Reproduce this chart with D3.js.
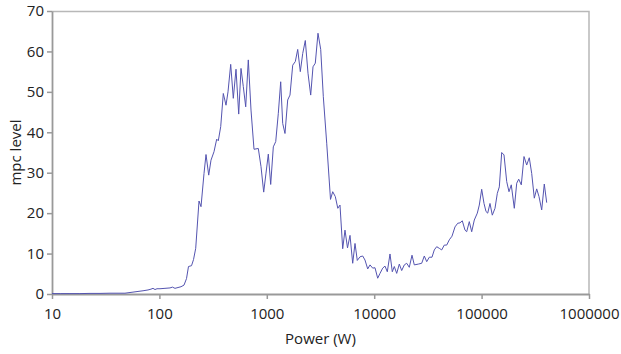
<html>
<head>
<meta charset="utf-8" />
<title>mpc level vs power</title>
<script src="https://cdn.jsdelivr.net/npm/d3@7"></script>
<style>
	body { margin: 0; background: #fff; }
	svg text { font-family: "Open Sans", "Noto Sans", sans-serif; fill: #222; }
</style>
<script>
// power (W), log spaced bins
const power = [
	10, 11.9, 14.7, 18.2, 22.6, 28.0, 34.7, 43.0, 47.8, 54.4,
	61.9, 70.4, 78.3, 83.5, 87.2, 91.0, 95.0, 101.3, 112.7, 125.5,
	132.4, 139.7, 149.0, 158.9, 169.5, 178.8, 186.6, 199.1, 207.8, 217.8,
	233.8, 244.0, 260.2, 271.6, 287.8, 302.3, 322.4, 341.6, 353.5, 372.3,
	393.6, 417.0, 435.3, 461.2, 487.6, 516.8, 547.6, 575.3, 604.3, 636.2,
	672.7, 712.8, 760.1, 833.5, 883.1, 935.6, 983.1, 1033, 1087, 1150,
	1211, 1280, 1347, 1406, 1477, 1565, 1644, 1743, 1843, 1940,
	2051, 2160, 2283, 2419, 2563, 2693, 2829, 2997, 3177, 3359,
	3613, 3919, 4108, 4343, 4583, 4803, 5089, 5347, 5642, 5953,
	6306, 6626, 6960, 7376, 7815, 8209, 8700, 9140, 9683, 10172,
	10779, 11324, 12000, 12604, 13243, 14030, 14740, 15390, 16200, 17130,
	18030, 19070, 20070, 21220, 22490, 23630, 25750, 27690, 29280, 30830,
	32590, 34520, 36260, 38180, 40370, 42500, 44940, 47320, 50030, 53020,
	56540, 59920, 62950, 66120, 70060, 72660, 76830, 80880, 85520, 91200,
	95200, 100200, 105300, 109900, 114000, 119700, 125800, 133300, 140100, 146200,
	153900, 161700, 171300, 179900, 189000, 201600, 212300, 221600, 234200, 248200,
	263000, 278000, 292800, 309500, 325800, 342300, 362700, 383500, 403700
];

// mpc level for each bin
const mpcLevel = [
	0.1, 0.1, 0.1, 0.1, 0.15, 0.15, 0.2, 0.2, 0.2, 0.4,
	0.6, 0.8, 1.0, 1.2, 1.4, 1.1, 1.3, 1.3, 1.4, 1.5,
	1.7, 1.4, 1.6, 1.8, 2.2, 3.8, 6.8, 7.0, 8.5, 11.3,
	23, 21.6, 29.8, 34.5, 29.4, 33.1, 35.2, 38.3, 37.9, 41.4,
	49.6, 46.7, 50, 56.8, 48.4, 55.6, 44.5, 55.8, 51.3, 46.3,
	57.9, 45.5, 35.8, 36, 31.5, 25.2, 29.9, 34.6, 27.1, 36.4,
	37.7, 44.7, 52.5, 42.2, 39.7, 48, 49.2, 56.6, 57.5, 60.5,
	55, 59.5, 62.7, 54.6, 49.2, 56.2, 57.1, 64.5, 60.5, 48.8,
	37.3, 23.4, 25.3, 24.1, 21.2, 22, 11.2, 15.8, 11.4, 14.5,
	7.6, 12.5, 8.3, 9.2, 9.4, 8.4, 6.2, 7.2, 6.4, 6.5,
	3.9, 5.1, 6.4, 6.9, 5.5, 9.9, 5.5, 6.8, 5.1, 7.4,
	5.8, 7.2, 7.6, 6.6, 9.6, 7.2, 7.4, 7.6, 9.4, 8,
	9.1, 9.1, 10.9, 11.7, 11.3, 10.9, 12.1, 12.1, 13.4, 14.3,
	16.6, 17.5, 17.6, 18.1, 15.8, 15.4, 17.9, 15.4, 18.3, 20,
	22, 25.9, 22.4, 20.4, 20, 22.4, 19.5, 21.2, 24.9, 26.5,
	35, 34.4, 27.8, 25.3, 27, 21.2, 27.4, 28.4, 27, 34,
	31.9, 33.7, 29.8, 23.7, 26, 24.1, 20.8, 27.2, 22.6
];

const xTicks = [10, 100, 1000, 10000, 100000, 1000000];
const yTicks = [0, 10, 20, 30, 40, 50, 60, 70];

window.onload = function() {
	const width = 621, height = 354;
	const margin = {top: 11, right: 32, bottom: 60, left: 52};
	const w = width - margin.left - margin.right;
	const h = height - margin.top - margin.bottom;

	const svg = d3.select('svg').attr('width', width).attr('height', height);
	const g = svg.append('g').attr('transform', `translate(${margin.left},${margin.top})`);

	const xScale = d3.scaleLog().domain([10, 1000000]).range([0, w]);
	const yScale = d3.scaleLinear().domain([0, 70]).range([h, 0]);

	// top and right frame lines
	g.append('path')
		.attr('d', `M0,0.5H${w}V${h}`)
		.attr('fill', 'none')
		.attr('stroke', '#b8b8b8')
		.attr('stroke-width', 1.5);

	const xAxis = d3.axisBottom(xScale).tickValues(xTicks).tickFormat(d3.format('d')).tickSize(5).tickSizeOuter(0);
	const yAxis = d3.axisLeft(yScale).tickValues(yTicks).tickSize(5).tickSizeOuter(0);

	const gx = g.append('g').attr('transform', `translate(0,${h})`).call(xAxis);
	const gy = g.append('g').call(yAxis);

	[gx, gy].forEach(a => {
		a.selectAll('path.domain').attr('stroke', '#999').attr('stroke-width', 1.8);
		a.selectAll('.tick line').attr('stroke', '#999').attr('stroke-width', 1.5);
		a.selectAll('.tick text').style('font-size', '15px').attr('fill', '#222');
	});
	gx.selectAll('.tick text').attr('dy', '1.1em');
	gy.selectAll('.tick text').attr('x', -8);

	const line = d3.line()
		.x((d, i) => xScale(power[i]))
		.y(d => yScale(d));

	g.append('path')
		.datum(mpcLevel)
		.attr('d', line)
		.attr('fill', 'none')
		.attr('stroke', '#5454b0')
		.attr('stroke-width', 1);

	svg.append('text')
		.attr('x', margin.left + w / 2)
		.attr('y', 344)
		.attr('text-anchor', 'middle')
		.style('font-size', '15px')
		.text('Power (W)');

	svg.append('text')
		.attr('transform', `translate(21,${margin.top + h / 2}) rotate(-90)`)
		.attr('text-anchor', 'middle')
		.style('font-size', '15px')
		.text('mpc level');
};
</script>
</head>
<body>
<svg></svg>
</body>
</html>
